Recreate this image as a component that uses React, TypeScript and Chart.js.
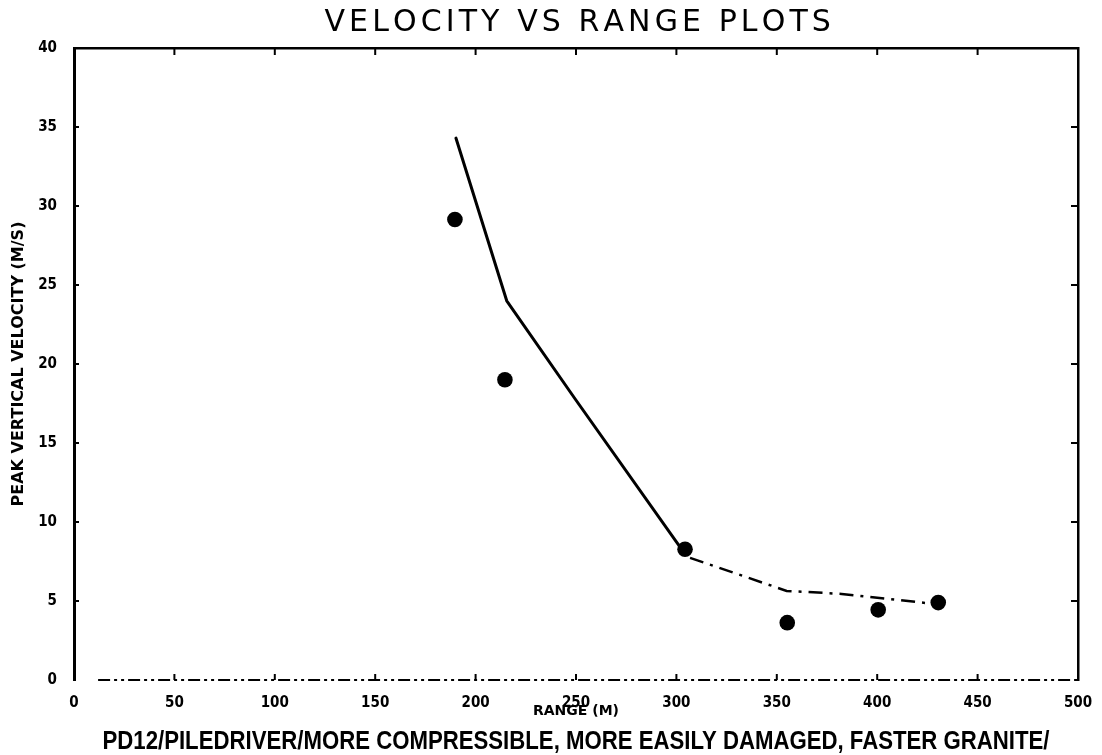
import React, { useEffect, useRef } from "react";
import { Chart, registerables } from "chart.js";

Chart.register(...registerables);

// ---- data ----
const pointRange = [189.7, 214.6, 304.3, 355.2, 400.5, 430.4];
const pointVelocity = [29.15, 19.0, 8.28, 3.63, 4.44, 4.9];

const solidRange = [190.2, 215.5, 249.5, 303];
const solidVelocity = [34.3, 24.0, 17.8, 8.2];

const dashedRange = [306.8, 354.9, 382.3, 428];
const dashedVelocity = [7.73, 5.64, 5.45, 4.82];

const baselineRange = [12, 500];
const baselineVelocity = [0, 0];

const xTickValues = [0, 50, 100, 150, 200, 250, 300, 350, 400, 450, 500];
const yTickValues = [0, 5, 10, 15, 20, 25, 30, 35, 40];

const titleText = "VELOCITY VS RANGE PLOTS";
const xTitleText = "RANGE (M)";
const yTitleText = "PEAK VERTICAL VELOCITY (M/S)";
const captionText =
  "PD12/PILEDRIVER/MORE COMPRESSIBLE, MORE EASILY DAMAGED, FASTER GRANITE/";

const toXY = (xs: number[], ys: number[]) => xs.map((x, i) => ({ x, y: ys[i] }));

const tickFont = { family: '"Liberation Sans Narrow", "DejaVu Sans Condensed", "DejaVu Sans", sans-serif', size: 15, weight: "bold" as const };
const axisTitleFont = { family: '"DejaVu Sans", sans-serif', size: 14, weight: "bold" as const };

const textPlugin = {
  id: "frameTexts",
  afterDraw(chart: any) {
    const { ctx, chartArea } = chart;
    const cx = (chartArea.left + chartArea.right) / 2;
    ctx.save();
    ctx.fillStyle = "#000";
    // title with letter spacing to match the wide plotter lettering
    ctx.font = '30px "DejaVu Sans", sans-serif';
    const tw0 = ctx.measureText(titleText).width;
    const targetTitle = 503;
    const sp = Math.max(0, (targetTitle - tw0) / (titleText.length - 1));
    let x = cx - targetTitle / 2;
    ctx.textBaseline = "middle";
    ctx.textAlign = "left";
    for (const ch of titleText) {
      ctx.fillText(ch, x, 23);
      x += ctx.measureText(ch).width + sp;
    }
    // caption, horizontally fitted
    ctx.font = 'bold 25px "Liberation Sans", "DejaVu Sans", sans-serif';
    const cw0 = ctx.measureText(captionText).width;
    const targetCap = 947;
    ctx.translate(cx, 742);
    ctx.scale(targetCap / cw0, 1);
    ctx.textAlign = "center";
    ctx.fillText(captionText, 0, 0);
    ctx.restore();
  },
};

const inwardTicksPlugin = {
  id: "inwardTicks",
  afterDraw(chart: any) {
    const { ctx, chartArea, scales } = chart;
    const { left, right, top, bottom } = chartArea;
    ctx.save();
    ctx.strokeStyle = "#000";
    ctx.lineWidth = 2;
    ctx.beginPath();
    xTickValues.forEach((v) => {
      if (v === 0 || v === 500) return;
      const px = scales.x.getPixelForValue(v);
      ctx.moveTo(px, top);
      ctx.lineTo(px, top + 7);
      ctx.moveTo(px, bottom);
      ctx.lineTo(px, bottom - 6);
    });
    yTickValues.forEach((v) => {
      if (v === 0 || v === 40) return;
      const py = scales.y.getPixelForValue(v);
      ctx.moveTo(left, py);
      ctx.lineTo(left + 5, py);
      ctx.moveTo(right, py);
      ctx.lineTo(right - 7, py);
    });
    ctx.stroke();
    ctx.restore();
  },
};

export default function App() {
  const ref = useRef<HTMLCanvasElement | null>(null);

  useEffect(() => {
    if (!ref.current) return;
    const chart = new Chart(ref.current, {
      type: "scatter",
      data: {
        datasets: [
          {
            label: "measured",
            data: toXY(pointRange, pointVelocity),
            showLine: false,
            pointRadius: 7.8,
            pointBackgroundColor: "#000",
            pointBorderColor: "#000",
            pointBorderWidth: 0,
          },
          {
            label: "calc solid",
            data: toXY(solidRange, solidVelocity),
            showLine: true,
            borderColor: "#000",
            borderWidth: 3,
            pointRadius: 0,
            borderJoinStyle: "round",
            borderCapStyle: "round",
          },
          {
            label: "calc dashed",
            data: toXY(dashedRange, dashedVelocity),
            showLine: true,
            borderColor: "#000",
            borderWidth: 2.5,
            borderDash: [14, 7, 3, 7],
            pointRadius: 0,
          },
          {
            label: "baseline",
            data: toXY(baselineRange, baselineVelocity),
            showLine: true,
            borderColor: "#000",
            borderWidth: 1.8,
            borderDash: [12, 4, 3, 4, 3, 4],
            pointRadius: 0,
            clip: false,
          },
        ],
      },
      options: {
        responsive: false,
        animation: false,
        layout: { padding: { top: 48, right: 24, bottom: 28, left: 0 } },
        plugins: {
          legend: { display: false },
          tooltip: { enabled: false },
          title: { display: false },
        },
        scales: {
          x: {
            type: "linear",
            position: "bottom",
            min: 0,
            max: 500,
            afterBuildTicks: (s: any) => {
              s.ticks = xTickValues.map((v) => ({ value: v }));
            },
            ticks: { color: "#000", font: tickFont, padding: 6, maxRotation: 0, autoSkip: false },
            grid: { display: false },
            border: { display: false },
            title: { display: true, text: xTitleText, color: "#000", font: axisTitleFont, padding: { top: 0, bottom: 7 } },
            afterFit: (s: any) => {
              s.height = 47;
            },
          },
          y: {
            type: "linear",
            position: "left",
            min: 0,
            max: 40,
            afterBuildTicks: (s: any) => {
              s.ticks = yTickValues.map((v) => ({ value: v }));
            },
            ticks: { color: "#000", font: tickFont, padding: 9, autoSkip: false },
            grid: { display: false },
            border: { display: true, color: "#000", width: 3 },
            title: { display: true, text: yTitleText, color: "#000", font: { ...axisTitleFont, size: 16 }, padding: { top: 9, bottom: 0 } },
            afterFit: (s: any) => {
              s.width = 74;
            },
          },
          x2: {
            type: "linear",
            position: "top",
            min: 0,
            max: 500,
            ticks: { display: false },
            grid: { display: false },
            border: { display: true, color: "#000", width: 2.5 },
            afterFit: (s: any) => {
              s.height = 0;
            },
          },
          y2: {
            type: "linear",
            position: "right",
            min: 0,
            max: 40,
            ticks: { display: false },
            grid: { display: false },
            border: { display: true, color: "#000", width: 2.5 },
            afterFit: (s: any) => {
              s.width = 0;
            },
          },
        },
      },
      plugins: [textPlugin, inwardTicksPlugin],
    } as any);
    return () => chart.destroy();
  }, []);

  return (
    <div style={{ position: "fixed", left: 0, top: 0, width: 1102, height: 755, background: "#fff" }}>
      <canvas ref={ref} width={1102} height={755} />
    </div>
  );
}
